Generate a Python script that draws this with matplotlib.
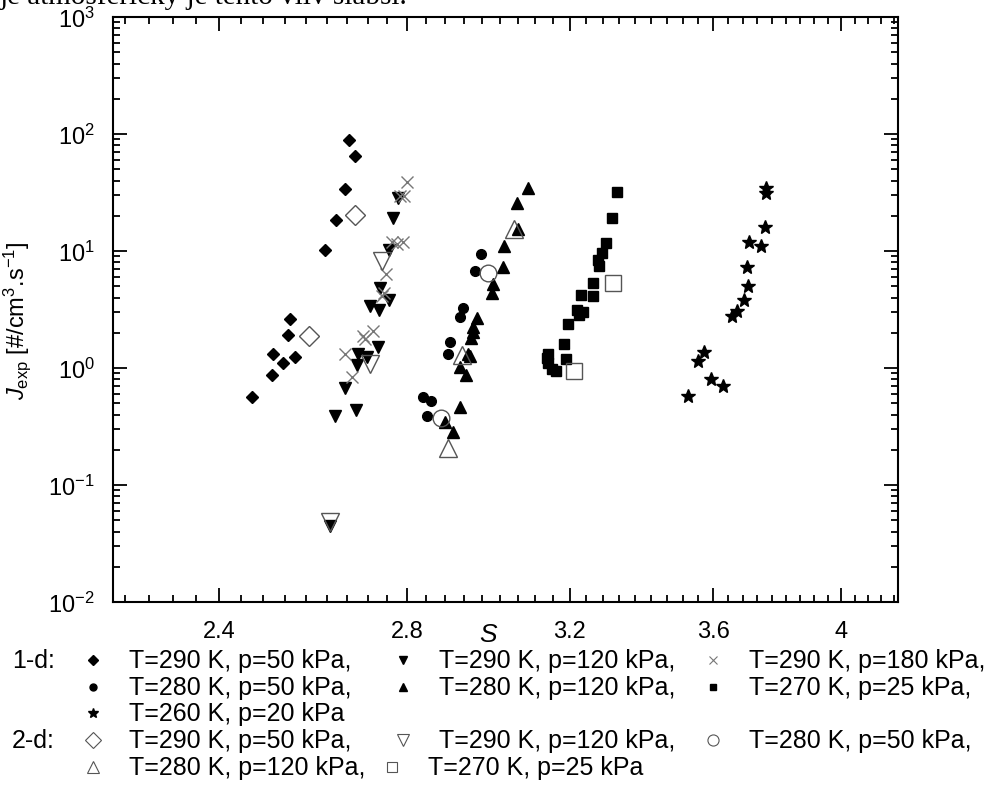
import numpy as np
import matplotlib
matplotlib.use("Agg")
import matplotlib.pyplot as plt
from matplotlib.ticker import FixedLocator, NullFormatter, LogLocator

plt.rcParams['font.family'] = ['Liberation Sans', 'DejaVu Sans']
plt.rcParams['mathtext.fontset'] = 'custom'
plt.rcParams['mathtext.rm'] = 'Liberation Sans'
plt.rcParams['mathtext.it'] = 'Liberation Sans:italic'

# 1-d data (filled symbols)
s_290_50 = [2.465, 2.506, 2.530, 2.554, 2.509, 2.540, 2.544, 2.618, 2.642, 2.661, 2.683, 2.670]
j_290_50 = [0.57, 0.87, 1.10, 1.23, 1.31, 1.92, 2.62, 10.2, 18.4, 33.9, 64.9, 88.9]

s_290_120 = [2.640, 2.685, 2.661, 2.687, 2.709, 2.691, 2.734, 2.737, 2.717, 2.759, 2.739, 2.759, 2.768, 2.780, 2.629]
j_290_120 = [0.387, 0.438, 0.671, 1.06, 1.25, 1.32, 1.50, 3.15, 3.37, 3.84, 4.80, 10.2, 19.1, 28.4, 0.045]

s_290_180 = [2.676, 2.661, 2.700, 2.705, 2.724, 2.743, 2.748, 2.752, 2.765, 2.777, 2.792, 2.784, 2.793, 2.800]
j_290_180 = [0.833, 1.317, 1.87, 1.77, 2.08, 4.15, 4.38, 6.36, 11.9, 11.5, 12.0, 29.5, 29.5, 38.9]

s_280_50 = [2.846, 2.838, 2.856, 2.897, 2.902, 2.926, 2.931, 2.961, 2.976]
j_280_50 = [0.387, 0.562, 0.519, 1.317, 1.68, 2.74, 3.24, 6.78, 9.43]

s_280_120 = [2.907, 2.889, 2.925, 2.939, 2.925, 2.948, 2.945, 2.951, 2.955, 2.957, 2.967,
             3.002, 3.006, 3.031, 3.032, 3.068, 3.064, 3.093]
j_280_120 = [0.286, 0.348, 0.461, 0.871, 1.014, 1.266, 1.317, 1.79, 2.03, 2.23, 2.67,
             4.38, 5.22, 7.25, 11.0, 15.4, 25.7, 34.4]

s_270_25 = [3.142, 3.143, 3.145, 3.153, 3.164, 3.190, 3.186, 3.197, 3.220, 3.226, 3.236, 3.229,
            3.263, 3.263, 3.279, 3.276, 3.287, 3.297, 3.314, 3.326]
j_270_25 = [1.217, 1.317, 1.103, 0.98, 0.937, 1.194, 1.595, 2.39, 3.15, 2.84, 3.03, 4.21,
            4.10, 5.33, 7.40, 8.43, 9.56, 11.7, 19.0, 31.8]

s_260_20 = [3.526, 3.556, 3.573, 3.593, 3.630, 3.657, 3.670, 3.692, 3.705, 3.702, 3.707, 3.743, 3.756, 3.761, 3.761]
j_260_20 = [0.58, 1.148, 1.378, 0.805, 0.706, 2.80, 3.05, 3.81, 5.05, 7.25, 11.9, 11.1, 16.1, 31.3, 34.4]

# 2-d data (open symbols)
s2_290_50 = [2.584, 2.683]
j2_290_50 = [1.89, 20.3]
s2_290_120 = [2.629, 2.717, 2.743]
j2_290_120 = [0.048, 1.08, 8.26]
s2_280_50 = [2.879, 2.992]
j2_280_50 = [0.374, 6.49]
s2_280_120 = [2.897, 2.929, 3.057]
j2_280_120 = [0.206, 1.291, 15.4]
s2_270_25 = [3.212, 3.317]
j2_270_25 = [0.937, 5.33]

x_major = [2.4, 2.8, 3.2, 3.6, 4.0]
x_major_labels = ['2.4', '2.8', '3.2', '3.6', '4']

fig = plt.figure(figsize=(10.03, 8.12), dpi=100)
ax = fig.add_axes([113 / 1003, 1 - 603 / 812, 785 / 1003, 585 / 812])

filled = [
    (s_290_50, j_290_50, 'D', 6.5, 'black'),
    (s_290_120, j_290_120, 'v', 8, 'black'),
    (s_280_50, j_280_50, 'o', 7, 'black'),
    (s_280_120, j_280_120, '^', 8, 'black'),
    (s_270_25, j_270_25, 's', 7, 'black'),
    (s_260_20, j_260_20, '*', 10, 'black'),
]
for s, j, m, ms, c in filled:
    ax.plot(s, j, ls='none', marker=m, ms=ms, color=c, mec=c)
ax.plot(s_290_180, j_290_180, ls='none', marker='x', ms=8, mew=1.0, color='#777777')

opened = [
    (s2_290_50, j2_290_50, 'D', 10),
    (s2_290_120, j2_290_120, 'v', 13),
    (s2_280_50, j2_280_50, 'o', 12),
    (s2_280_120, j2_280_120, '^', 13),
    (s2_270_25, j2_270_25, 's', 11),
]
for s, j, m, ms in opened:
    ax.plot(s, j, ls='none', marker=m, ms=ms, mfc='none', mec='#555555', mew=1.0)

ax.set_xscale('log')
ax.set_yscale('log')
ax.set_xlim(2.2, 4.19)
ax.set_ylim(1e-2, 1e3)

ax.xaxis.set_major_locator(FixedLocator(x_major))
ax.set_xticklabels(x_major_labels)
minor = [2.4 + k * 0.4 / 9 for k in range(-4, 41) if k % 9 != 0]
ax.xaxis.set_minor_locator(FixedLocator([v for v in minor if 2.2 <= v <= 4.19]))
ax.xaxis.set_minor_formatter(NullFormatter())
ax.yaxis.set_major_locator(LogLocator(base=10, numticks=10))
ax.yaxis.set_minor_locator(LogLocator(base=10, subs=np.arange(2, 10), numticks=20))
ax.yaxis.set_minor_formatter(NullFormatter())

ax.tick_params(which='both', direction='in', top=True, right=True, width=1.3, labelsize=17)
ax.tick_params(which='major', length=10)
ax.tick_params(axis='x', which='major', pad=13)
ax.tick_params(axis='y', which='major', pad=13)
ax.tick_params(which='minor', length=5)
for sp in ax.spines.values():
    sp.set_linewidth(1.5)

ax.set_ylabel(r'$J_{\mathrm{exp}}$ [#/cm$^{3}$.s$^{-1}$]', fontsize=17)
ax.yaxis.set_label_coords(-0.102, 0.482)
ax.set_xlabel('S', fontsize=19, style='italic')
ax.xaxis.set_label_coords(0.478, -0.034)

# text line cut off at the top of the page
fig.text(0.0, 1 - 4 / 812, 'je atmosférický je tento vliv slabší.', family='Liberation Serif',
         fontsize=21, va='baseline', ha='left')

# legend block drawn in pixel space below the axes
lax = fig.add_axes([0, 0, 1, 1], zorder=-1)
lax.set_xlim(0, 1003)
lax.set_ylim(812, 0)
lax.axis('off')

fs = 18
rows = [661, 688, 714, 741, 768]
lax.text(12, rows[0], '1-d:', fontsize=fs, va='center')
lax.text(12, rows[3], '2-d:', fontsize=fs, va='center')

legend_items = [
    (93, rows[0], 'D', 5, True, 'T=290 K, p=50 kPa,'),
    (403, rows[0], 'v', 6, True, 'T=290 K, p=120 kPa,'),
    (713, rows[0], 'x', 6, None, 'T=290 K, p=180 kPa,'),
    (93, rows[1], 'o', 5, True, 'T=280 K, p=50 kPa,'),
    (403, rows[1], '^', 6, True, 'T=280 K, p=120 kPa,'),
    (713, rows[1], 's', 5, True, 'T=270 K, p=25 kPa,'),
    (93, rows[2], '*', 7, True, 'T=260 K, p=20 kPa'),
    (93, rows[3], 'D', 8, False, 'T=290 K, p=50 kPa,'),
    (403, rows[3], 'v', 9, False, 'T=290 K, p=120 kPa,'),
    (713, rows[3], 'o', 8, False, 'T=280 K, p=50 kPa,'),
    (93, rows[4], '^', 9, False, 'T=280 K, p=120 kPa,'),
    (392, rows[4], 's', 7, False, 'T=270 K, p=25 kPa'),
]
for x, y, m, ms, fill, label in legend_items:
    if fill is None:
        lax.plot([x], [y], marker=m, ms=ms, color='#777777', mew=0.8, ls='none')
    elif fill:
        lax.plot([x], [y], marker=m, ms=ms, color='black', ls='none')
    else:
        lax.plot([x], [y], marker=m, ms=ms, mfc='none', mec='#555555', mew=0.8, ls='none')
    lax.text(x + 36, y, label, fontsize=fs, va='center')

fig.savefig('out.png', dpi=100)
